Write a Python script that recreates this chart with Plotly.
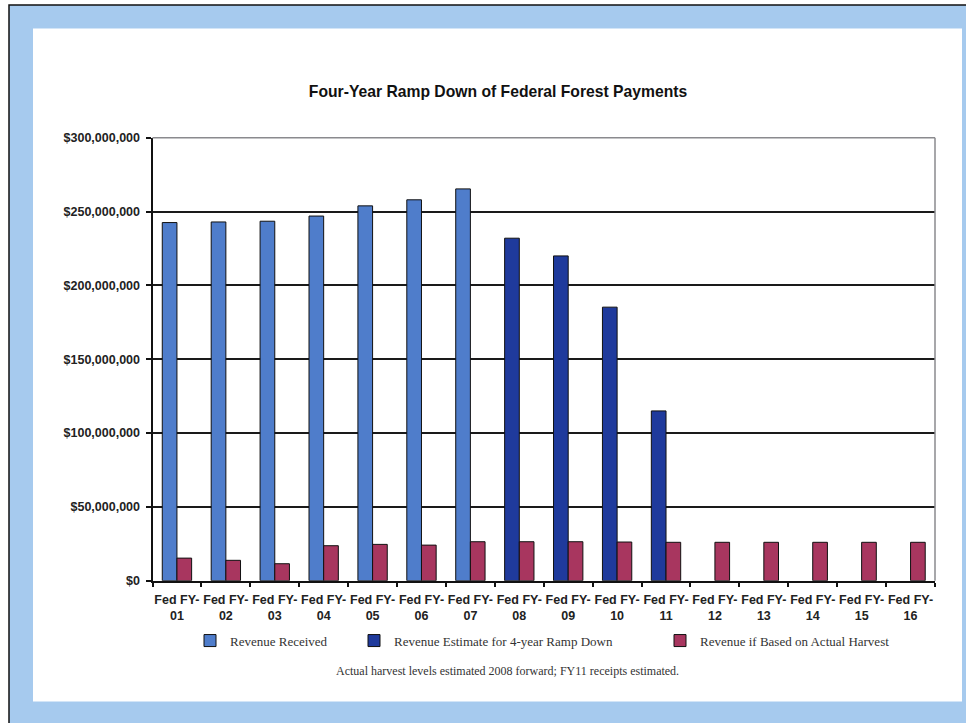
import plotly.graph_objects as go

W, H = 966, 723

years = ["01", "02", "03", "04", "05", "06", "07", "08",
         "09", "10", "11", "12", "13", "14", "15", "16"]
categories = ["Fed FY-<br>" + y for y in years]

revenue_received = [242.6e6, 243.0e6, 243.5e6, 247.0e6, 253.9e6, 258.0e6, 265.4e6,
                    None, None, None, None, None, None, None, None, None]
revenue_ramp_down = [None, None, None, None, None, None, None,
                     232.0e6, 220.0e6, 185.3e6, 115.0e6, None, None, None, None, None]
revenue_actual_harvest = [15.3e6, 13.8e6, 11.5e6, 23.7e6, 24.6e6, 24.1e6, 26.4e6, 26.4e6,
                          26.4e6, 26.2e6, 26.0e6, 26.0e6, 26.0e6, 26.0e6, 26.0e6, 26.0e6]

series_names = ["Revenue Received",
                "Revenue Estimate for 4-year Ramp Down",
                "Revenue if Based on Actual Harvest"]
series_colors = ["#4F7DCB", "#1F3A9C", "#A8365F"]

y_ticks = [0, 50e6, 100e6, 150e6, 200e6, 250e6, 300e6]

title_text = "Four-Year Ramp Down of Federal Forest Payments"
note_text = "Actual harvest levels estimated 2008 forward; FY11 receipts estimated."

def px_x(p):
    return p / W

def px_y(p):
    # small vertical compensation for the capture's scaling about the centre
    q = 361.5 + (p - 361.5) / 0.982
    return 1 - q / H

fig = go.Figure()
fig.add_trace(go.Bar(x=categories, y=revenue_received, name=series_names[0],
                     marker=dict(color=series_colors[0], line=dict(color="#111", width=1)),
                     offsetgroup="a", legend="legend"))
fig.add_trace(go.Bar(x=categories, y=revenue_ramp_down, name=series_names[1],
                     marker=dict(color=series_colors[1], line=dict(color="#111", width=1)),
                     offsetgroup="a", legend="legend2"))
fig.add_trace(go.Bar(x=categories, y=revenue_actual_harvest, name=series_names[2],
                     marker=dict(color=series_colors[2], line=dict(color="#111", width=1)),
                     offsetgroup="b", legend="legend3"))

legend_font = dict(family="Liberation Serif", size=13, color="#333")
legend_common = dict(orientation="h", yanchor="middle", y=px_y(641), xanchor="left",
                     font=legend_font, bgcolor="rgba(0,0,0,0)", itemwidth=30)

shapes = [
    # outer frame
    dict(type="rect", xref="paper", yref="paper", x0=px_x(9), x1=1.01, y0=-0.02, y1=px_y(4.5),
         fillcolor="#A6CAEE", line=dict(color="#111", width=1.5), layer="below"),
    # inner white panel
    dict(type="rect", xref="paper", yref="paper", x0=px_x(33), x1=px_x(962), y0=px_y(702), y1=px_y(28),
         fillcolor="white", line=dict(width=0), layer="below"),
    # plot border top and right (grey)
    dict(type="line", xref="x domain", yref="y domain", x0=0, x1=1, y0=1, y1=1,
         line=dict(color="#8A8A8E", width=1.5), layer="above"),
    dict(type="line", xref="x domain", yref="y domain", x0=1, x1=1, y0=0, y1=1,
         line=dict(color="#8A8A8E", width=1.5), layer="above"),
]

fig.update_layout(
    width=W, height=H,
    margin=dict(l=0, r=0, t=0, b=0),
    paper_bgcolor="white",
    plot_bgcolor="#C8C8CE",
    barmode="group",
    bargap=0.4,
    bargroupgap=0.0,
    showlegend=True,
    legend=dict(legend_common, x=px_x(190)),
    legend2=dict(legend_common, x=px_x(354)),
    legend3=dict(legend_common, x=px_x(660)),
    title=dict(text=title_text, x=px_x(498), xanchor="center", xref="paper",
               y=px_y(91), yanchor="middle", yref="paper",
               font=dict(family="Liberation Sans", size=15.7, color="#111", weight="bold")),
    xaxis=dict(domain=[px_x(152.5), px_x(935)], type="category",
               showline=True, linecolor="#111", linewidth=2,
               ticks="outside", tickson="boundaries", ticklen=4, tickwidth=1.5, tickcolor="#111",
               showgrid=False, tickangle=0, ticklabelstandoff=6,
               tickfont=dict(family="Liberation Sans", size=12.5, color="#222", weight="bold")),
    yaxis=dict(domain=[px_y(581), px_y(137.5)], range=[0, 300e6],
               tickvals=y_ticks, tickformat="$,.0f",
               showline=True, linecolor="#111", linewidth=2,
               ticks="outside", ticklen=5, tickwidth=1.5, tickcolor="#111",
               showgrid=True, gridcolor="#1A1A1A", gridwidth=2,
               zeroline=False, ticklabelstandoff=3,
               tickfont=dict(family="Liberation Sans", size=12.5, color="#222", weight="bold")),
    shapes=shapes,
    annotations=[dict(text=note_text, xref="paper", yref="paper", x=px_x(507), y=px_y(671),
                      xanchor="center", yanchor="middle", showarrow=False,
                      font=dict(family="Liberation Serif", size=12, color="#333"))],
)

post = (
    "document.documentElement.style.margin='0';"
    "document.documentElement.style.padding='0';"
    "document.documentElement.style.height='723px';"
    "document.documentElement.style.overflow='hidden';"
    "document.body.style.margin='0';"
    "document.body.style.padding='0';"
    "document.body.style.height='723px';"
    "document.body.style.overflow='hidden';"
    "var gd=document.getElementById('{plot_id}');"
    "gd.style.position='fixed';gd.style.top='0px';gd.style.left='0px';"
)

fig.write_html("out.html", config={"displayModeBar": False}, post_script=post)
